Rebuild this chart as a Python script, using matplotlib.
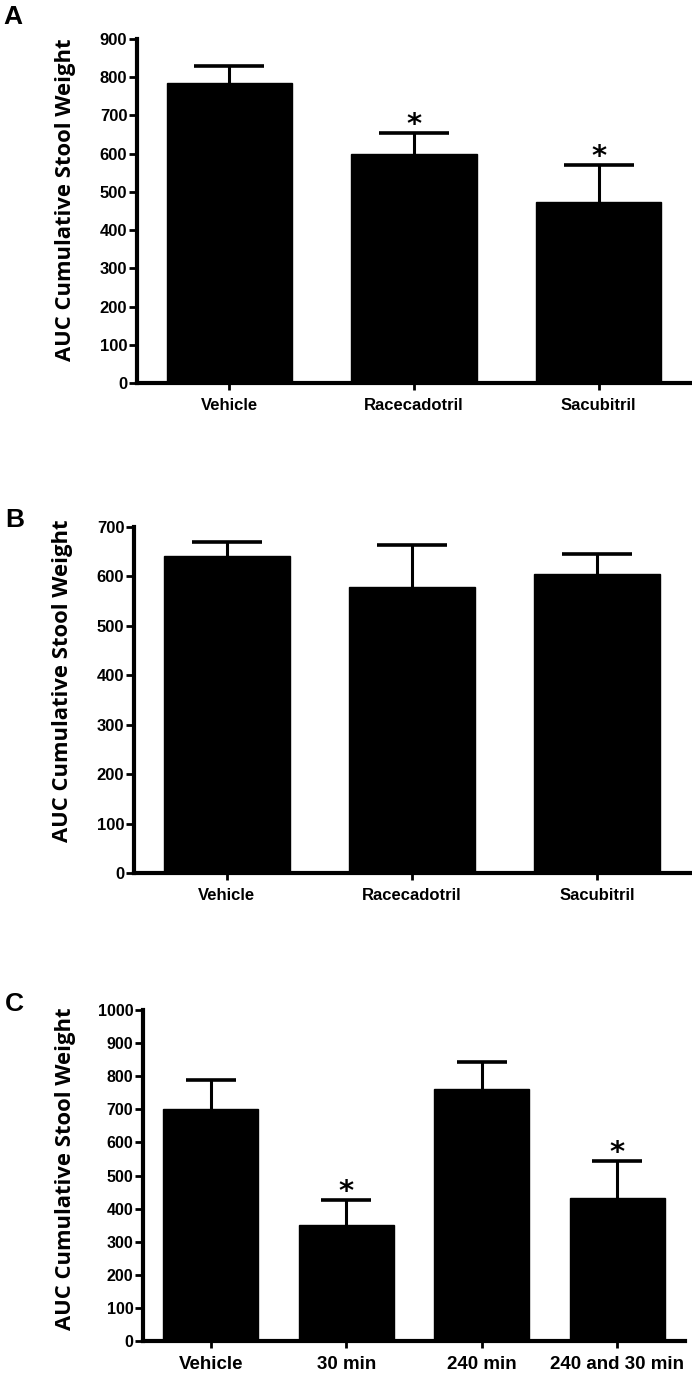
import matplotlib
matplotlib.use('Agg')
import matplotlib.pyplot as plt
import numpy as np

# panel A
a_labels = ['Vehicle', 'Racecadotril', 'Sacubitril']
a_mean = [784, 598, 474]
a_sem = [46, 57, 97]
a_sig = [False, True, True]

# panel B
b_labels = ['Vehicle', 'Racecadotril', 'Sacubitril']
b_mean = [641, 579, 604]
b_sem = [29, 84, 41]
b_sig = [False, False, False]

# panel C
c_labels = ['Vehicle', '30 min', '240 min', '240 and 30 min']
c_mean = [700, 350, 760, 431]
c_sem = [90, 76, 84, 112]
c_sig = [False, True, False, True]

ylab = 'AUC Cumulative Stool Weight'
W, H = 692, 1376

fig = plt.figure(figsize=(W/100, H/100), dpi=100)

def px_axes(left, right, top, bottom):
    return fig.add_axes([left/W, 1-bottom/H, (right-left)/W, (bottom-top)/H])

def panel(ax, labels, means, sems, sig, ymax, width, capsize, xfs, yfs):
    x = np.arange(len(labels))
    ax.bar(x, means, width=width, color='black', edgecolor='black', zorder=3)
    _, caps, _ = ax.errorbar(x, means, yerr=[np.zeros(len(sems)), sems], fmt='none',
                             ecolor='black', elinewidth=2.2, capsize=capsize,
                             capthick=2.6, zorder=2)
    caps[0].set_visible(False)   # no cap at bar top (one-sided SEM)
    for i in range(len(labels)):
        if sig[i]:
            ax.annotate('*', xy=(x[i], means[i]+sems[i]), xytext=(0, 0),
                        textcoords='offset points', ha='center', va='baseline',
                        fontsize=21, fontweight='bold', family='DejaVu Sans')
    ax.set_xlim(-0.5, len(labels)-0.5)
    ax.set_ylim(0, ymax)
    ax.set_yticks(np.arange(0, ymax+1, 100))
    ax.set_xticks(x)
    ax.set_xticklabels(labels, fontsize=xfs, fontweight='bold', family='Liberation Sans')
    for t in ax.get_yticklabels():
        t.set_fontsize(yfs); t.set_fontweight('bold'); t.set_family('Liberation Sans')
    for s in ['top', 'right']:
        ax.spines[s].set_visible(False)
    for s in ['left', 'bottom']:
        ax.spines[s].set_linewidth(3)
    ax.tick_params(axis='y', direction='out', length=6, width=2, pad=1)
    ax.tick_params(axis='x', direction='out', length=5, width=2, pad=6)

axA = px_axes(137, 691, 39, 383)
panel(axA, a_labels, a_mean, a_sem, a_sig, 900, 0.68, 25, 12, 12)
axB = px_axes(134, 690, 527, 873)
panel(axB, b_labels, b_mean, b_sem, b_sig, 700, 0.68, 25, 12, 12)
axC = px_axes(143, 685, 1010, 1341)
panel(axC, c_labels, c_mean, c_sem, c_sig, 1000, 0.70, 18, 13.5, 11.5)

# y labels and panel letters
for xc, yc in [(66, 200), (63, 681), (66, 1169)]:
    fig.text(xc/W, 1-yc/H, ylab, rotation=90, ha='center', va='center',
             fontsize=15.8, fontweight='bold', family='Open Sans')
for letter, xc, yc in [('A', 13, 17), ('B', 15, 520), ('C', 14, 1004)]:
    fig.text(xc/W, 1-yc/H, letter, ha='center', va='center',
             fontsize=19, fontweight='bold', family='Liberation Sans')

fig.savefig('out.png', dpi=100)
